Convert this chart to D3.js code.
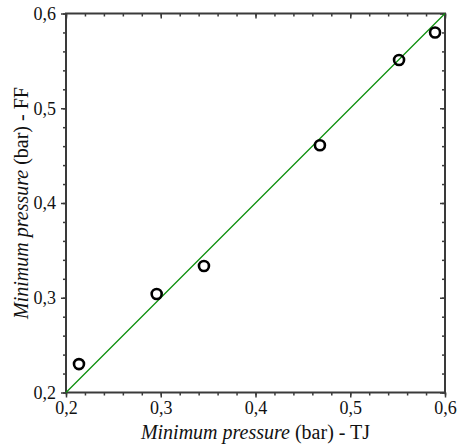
<!DOCTYPE html>
<html><head><meta charset="utf-8">
<script src="https://cdn.jsdelivr.net/npm/d3@7"></script>
<style>html,body{margin:0;padding:0;background:#fff;}svg{display:block;}
svg text{font-family:"Liberation Serif","Times New Roman",Times,"DejaVu Serif",serif;}</style>
</head><body>
<svg id="c" width="457" height="444"></svg>
<script>
const tjValues = [0.2137, 0.2957, 0.3456, 0.468, 0.5515, 0.5895];
const ffValues = [0.230, 0.304, 0.3335, 0.461, 0.551, 0.580];
const majorTicks = [0.2, 0.3, 0.4, 0.5, 0.6];
const tickLabels = ["0,2", "0,3", "0,4", "0,5", "0,6"];
const minorTicks = d3.range(0, 21).map(i => 0.2 + i * 0.02);
const lineX = [0.2, 0.6];

const svg = d3.select("#c");
const L = 66, R = 445, T = 13.5, B = 392.5;
const x = d3.scaleLinear().domain([0.2, 0.6]).range([L, R]);
const y = d3.scaleLinear().domain([0.2, 0.6]).range([B, T]);
const axisCol = "#3a3a3a";

const g = svg.append("g");
const fmt = d => tickLabels[majorTicks.findIndex(t => Math.abs(t - d) < 1e-9)];
function styleAxis(sel) {
  sel.attr("font-family", null);
  sel.select(".domain").remove();
  sel.selectAll("line").attr("stroke", axisCol).attr("stroke-width", 1.5);
  sel.selectAll("text").attr("font-size", 18).attr("fill", "#111");
}
g.append("g").attr("transform", `translate(0,${B})`)
  .call(d3.axisBottom(x).tickValues(minorTicks).tickSize(3).tickFormat(""))
  .call(styleAxis);
g.append("g").attr("transform", `translate(0,${B})`)
  .call(d3.axisBottom(x).tickValues(majorTicks).tickSize(5).tickPadding(4).tickFormat(fmt))
  .call(styleAxis);
g.append("g").attr("transform", `translate(${L},0)`)
  .call(d3.axisLeft(y).tickValues(minorTicks).tickSize(3).tickFormat(""))
  .call(styleAxis);
g.append("g").attr("transform", `translate(${L},0)`)
  .call(d3.axisLeft(y).tickValues(majorTicks).tickSize(5).tickPadding(5).tickFormat(fmt))
  .call(styleAxis);
g.append("g").attr("transform", `translate(0,${T})`)
  .call(d3.axisBottom(x).tickValues(minorTicks).tickSize(3).tickFormat(""))
  .call(styleAxis);
g.append("g").attr("transform", `translate(0,${T})`)
  .call(d3.axisBottom(x).tickValues(majorTicks).tickSize(5).tickFormat(""))
  .call(styleAxis);
g.append("g").attr("transform", `translate(${R},0)`)
  .call(d3.axisLeft(y).tickValues(minorTicks).tickSize(3).tickFormat(""))
  .call(styleAxis);
g.append("g").attr("transform", `translate(${R},0)`)
  .call(d3.axisLeft(y).tickValues(majorTicks).tickSize(5).tickFormat(""))
  .call(styleAxis);

svg.append("rect").attr("x", L).attr("y", T).attr("width", R - L).attr("height", B - T)
  .attr("fill", "none").attr("stroke", axisCol).attr("stroke-width", 2);

svg.append("line")
  .attr("x1", x(lineX[0])).attr("y1", y(lineX[0]))
  .attr("x2", x(lineX[1])).attr("y2", y(lineX[1]))
  .attr("stroke", "#0a8f0a").attr("stroke-width", 1.3);

svg.append("g").selectAll("circle").data(tjValues).join("circle")
  .attr("cx", d => x(d)).attr("cy", (d, i) => y(ffValues[i]))
  .attr("r", 5).attr("fill", "none").attr("stroke", "#000").attr("stroke-width", 2.6);

const xt = svg.append("text").attr("x", (L + R) / 2).attr("y", 439)
  .attr("text-anchor", "middle").attr("font-size", 20).attr("fill", "#111");
xt.append("tspan").attr("font-style", "italic").text("Minimum pressure");
xt.append("tspan").text(" (bar) - TJ");

const yt = svg.append("text").attr("transform", `translate(28,${(T + B) / 2}) rotate(-90)`)
  .attr("text-anchor", "middle").attr("font-size", 20).attr("fill", "#111");
yt.append("tspan").attr("font-style", "italic").text("Minimum pressure");
yt.append("tspan").text(" (bar) - FF");
</script>
</body></html>
